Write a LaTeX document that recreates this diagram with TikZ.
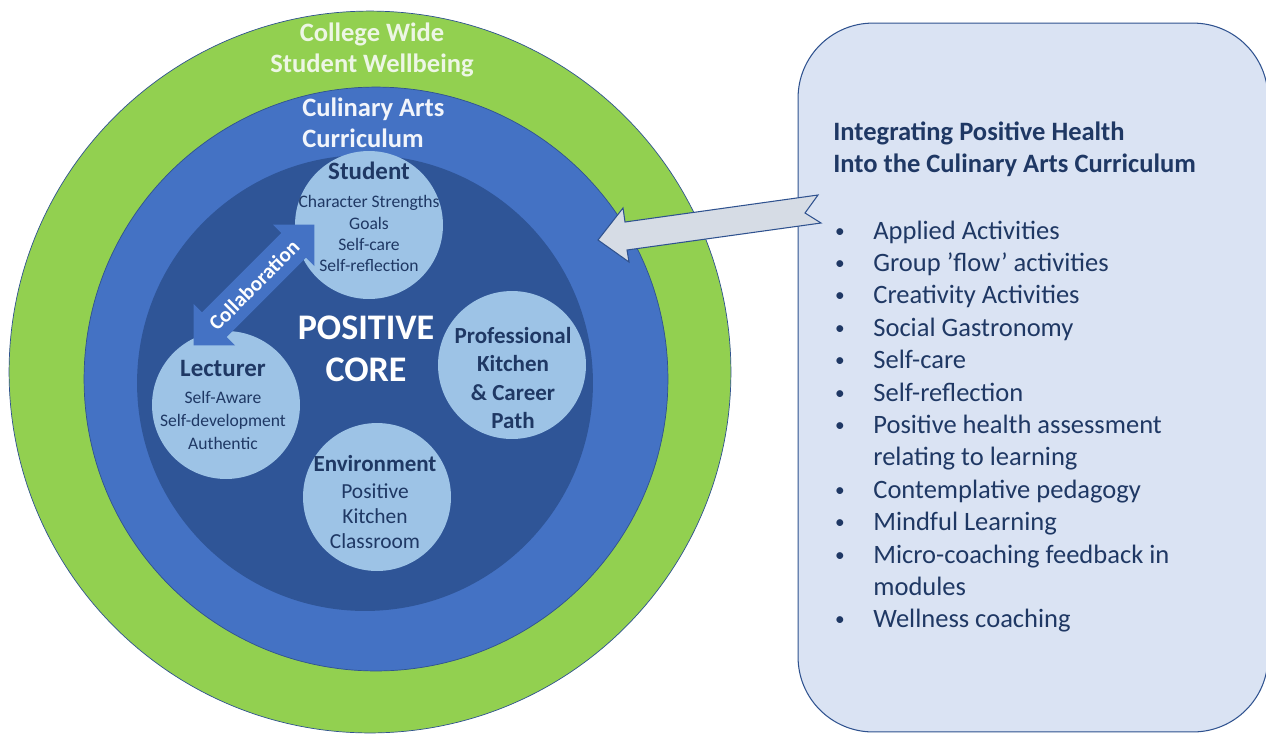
\documentclass[tikz,border=0pt]{standalone}
\usepackage{fontspec}
\setmainfont{Carlito}
\usetikzlibrary{shapes.arrows}

\definecolor{ringgreen}{HTML}{92D050}
\definecolor{ringblue}{HTML}{4472C4}
\definecolor{coreblue}{HTML}{2F5597}
\definecolor{petal}{HTML}{9DC3E6}
\definecolor{navy}{HTML}{1F3864}
\definecolor{panelfill}{HTML}{DAE3F3}
\definecolor{panelline}{HTML}{2F528F}
\definecolor{pointerfill}{HTML}{D6DCE5}
\definecolor{palegreen}{HTML}{EDF6E5}
\definecolor{paleblue}{HTML}{F2F5FB}

\begin{document}
\begin{tikzpicture}[x=0.02cm, y=-0.02cm,
    ring/.style={circle, inner sep=0pt, draw=panelline, line width=0.4pt},
    petalnode/.style={circle, fill=petal, minimum size=2.96cm, inner sep=0pt},
    petaltext/.style={text=navy, align=center, inner sep=0pt},
    ringtext/.style={font=\fontsize{15.1}{17.6}\selectfont\bfseries, inner sep=0pt},
    itemtext/.style={text=navy, font=\fontsize{15.1}{18.4}\selectfont, inner sep=0pt}]
    \useasboundingbox (0,0) rectangle (1266,738);

    % the three rings
    \node[ring, fill=ringgreen, minimum size=14.44cm] (wide) at (370,372) {};
    \node[ring, fill=ringblue, minimum size=11.68cm] (curric) at (376,379) {};
    \node[circle, fill=coreblue, minimum size=9.12cm, inner sep=0pt] (core) at (365,383) {};

    \node[ringtext, text=palegreen, align=center] (widetext) at (372,50) {College Wide\\Student Wellbeing};
    \node[ringtext, text=paleblue, align=left, anchor=west] (currictext) at (302,123) {Culinary Arts\\Curriculum};

    % petals round the core
    \node[petalnode] (student) at (369,225) {};
    \node[petalnode] (lecturer) at (226,405) {};
    \node[petalnode] (kitchen) at (512,365) {};
    \node[petalnode] (environment) at (377,497) {};

    \node[petaltext, font=\fontsize{10}{12.1}\selectfont] (studenttext) at (369,217)
        {{\fontsize{14.2}{16}\selectfont\bfseries Student}\\[3.8pt]Character Strengths\\Goals\\Self-care\\Self-reflection};
    \node[petaltext, font=\fontsize{10}{13.1}\selectfont] (lecturertext) at (223,405)
        {{\fontsize{14.2}{16}\selectfont\bfseries Lecturer}\\[2.3pt]Self-Aware\\Self-development\\Authentic};
    \node[petaltext, font=\fontsize{13.1}{16.3}\selectfont\bfseries] (kitchentext) at (513,378)
        {Professional\\Kitchen\\\& Career\\Path};
    \node[petaltext, font=\fontsize{12.2}{14.2}\selectfont] (environmenttext) at (375,502)
        {{\fontsize{13.1}{15}\selectfont\bfseries Environment}\\[1.2pt]Positive\\Kitchen\\Classroom};

    \node[text=white, align=center, inner sep=0pt, font=\fontsize{20.5}{23.9}\selectfont\bfseries] (coretext) at (366,349) {POSITIVE\\CORE};

    % collaboration between lecturer and student
    \node[double arrow, fill=ringblue, rotate=45, double arrow head extend=0.24cm,
        minimum height=3.42cm, inner xsep=0pt, inner ysep=0.19cm, text=white,
        font=\fontsize{12}{12}\selectfont\bfseries] (collab) at (254,285) {Collaboration};

    % side panel
    \node[draw=panelline, fill=panelfill, line width=0.6pt, rounded corners=1.5cm,
        minimum width=9.4cm, minimum height=14.18cm, inner sep=0pt] (panel) at (1033,377.5) {};

    \node[itemtext, font=\fontsize{15.1}{18.4}\selectfont\bfseries, anchor=base west] (title1) at (833,140) {Integrating Positive Health};
    \node[itemtext, font=\fontsize{15.1}{18.4}\selectfont\bfseries, anchor=base west] (title2) at (833,172) {Into the Culinary Arts Curriculum};

    \foreach \b/\txt [count=\i from 0] in {1/Applied Activities, 1/Group ’flow’ activities,
        1/Creativity Activities, 1/Social Gastronomy, 1/Self-care, 1/Self-reflection,
        1/Positive health assessment, 0/relating to learning, 1/Contemplative pedagogy,
        1/Mindful Learning, 1/Micro-coaching feedback in, 0/modules, 1/Wellness coaching} {
        \node[itemtext, anchor=base west] (item\i) at (873,239+32.4*\i) {\txt};
        \ifnum\b=1 \node[itemtext, font=\fontsize{11}{12}\selectfont, anchor=base] (dot\i) at (840,237+32.4*\i) {\textbullet}; \fi
    }

    % block arrow from the panel into the curriculum ring
    \draw[fill=pointerfill, draw=panelline, line width=0.6pt, line join=miter]
        (598,240) -- (623,208) -- (625,222) -- (818,195) -- (805,213)
        -- (821,223) -- (627,250) -- (629,262) -- cycle;
\end{tikzpicture}
\end{document}
